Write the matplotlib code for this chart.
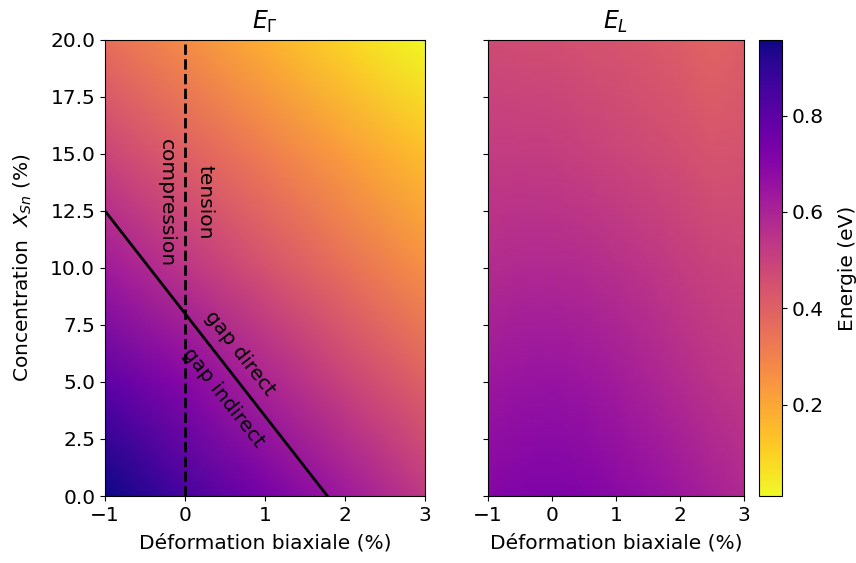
import numpy as np
import matplotlib
matplotlib.use("Agg")
import matplotlib.pyplot as plt

# Data
strain = [-1.0, 0.0, 1.0, 2.0, 3.0]          # Déformation biaxiale (%)
conc = [0.0, 5.0, 10.0, 15.0, 20.0]           # X_Sn (%)

# E_Gamma (eV), rows = concentration, cols = strain
E_gamma = [
    [0.957, 0.847, 0.737, 0.632, 0.530],
    [0.795, 0.695, 0.595, 0.497, 0.400],
    [0.630, 0.540, 0.450, 0.355, 0.265],
    [0.490, 0.405, 0.315, 0.225, 0.140],
    [0.360, 0.270, 0.180, 0.090, 0.010],
]

strain_L = [-1.0, -0.5, 0.0, 0.5, 1.0, 1.5, 2.0, 2.5, 3.0]
# E_L (eV)
E_L = [
    [0.70, 0.715, 0.72, 0.71, 0.69, 0.665, 0.64, 0.61, 0.58],
    [0.64, 0.65, 0.655, 0.645, 0.625, 0.60, 0.575, 0.55, 0.53],
    [0.57, 0.58, 0.58, 0.575, 0.56, 0.54, 0.52, 0.50, 0.49],
    [0.52, 0.52, 0.515, 0.505, 0.49, 0.475, 0.46, 0.44, 0.45],
    [0.47, 0.465, 0.46, 0.45, 0.44, 0.425, 0.41, 0.39, 0.41],
]

# direct / indirect boundary
boundary_strain = [-1.0, 1.78]
boundary_conc = [12.5, 0.0]

vmin, vmax = 0.01, 0.957

fig = plt.figure(figsize=(8.56, 5.63), dpi=100)
ax1 = fig.add_axes([0.1227, 0.119, 0.3738, 0.81])
ax2 = fig.add_axes([0.570, 0.119, 0.299, 0.81], sharey=ax1)
cax = fig.add_axes([0.8867, 0.119, 0.0269, 0.81])

S, X = np.meshgrid(strain, conc)
m1 = ax1.pcolormesh(S, X, np.array(E_gamma), shading='gouraud', cmap='plasma_r',
                    vmin=vmin, vmax=vmax)
SL, XL = np.meshgrid(strain_L, conc)
ax2.pcolormesh(SL, XL, np.array(E_L), shading='gouraud', cmap='plasma_r',
               vmin=vmin, vmax=vmax)

ax1.plot(boundary_strain, boundary_conc, color='black', lw=2)
ax1.axvline(0, color='black', lw=2, ls='--')

ax1.set_xlim(-1, 3)
ax1.set_ylim(0, 20)
ax2.set_xlim(-1, 3)

fs = 14.5
ax1.set_title(r'$E_\Gamma$', fontsize=17, pad=8)
ax2.set_title(r'$E_L$', fontsize=17, pad=8)
ax1.set_xlabel('Déformation biaxiale (%)', fontsize=fs, labelpad=6)
ax2.set_xlabel('Déformation biaxiale (%)', fontsize=fs, labelpad=6)
ax1.set_ylabel(r'Concentration  $X_{Sn}$ (%)', fontsize=fs, labelpad=12)
ax1.set_xticks([-1, 0, 1, 2, 3])
ax2.set_xticks([-1, 0, 1, 2, 3])
ax1.set_yticks([0, 2.5, 5, 7.5, 10, 12.5, 15, 17.5, 20])
for ax in (ax1, ax2):
    ax.tick_params(labelsize=fs)
plt.setp(ax2.get_yticklabels(), visible=False)

ax1.text(-0.23, 12.85, 'compression', rotation=-90, ha='center', va='center',
         fontsize=fs, rotation_mode='anchor')
ax1.text(0.25, 12.9, 'tension', rotation=-90, ha='center', va='center',
         fontsize=fs, rotation_mode='anchor')
ax1.text(0.69, 6.27, 'gap direct', rotation=-52, ha='center', va='center',
         fontsize=fs, rotation_mode='anchor')
ax1.text(0.475, 4.34, 'gap indirect', rotation=-52, ha='center', va='center',
         fontsize=fs, rotation_mode='anchor')

cb = fig.colorbar(m1, cax=cax)
cb.set_ticks([0.2, 0.4, 0.6, 0.8])
cb.ax.tick_params(labelsize=fs)
cb.set_label('Energie (eV)', fontsize=fs, labelpad=10)

fig.savefig('out.png', dpi=100)
